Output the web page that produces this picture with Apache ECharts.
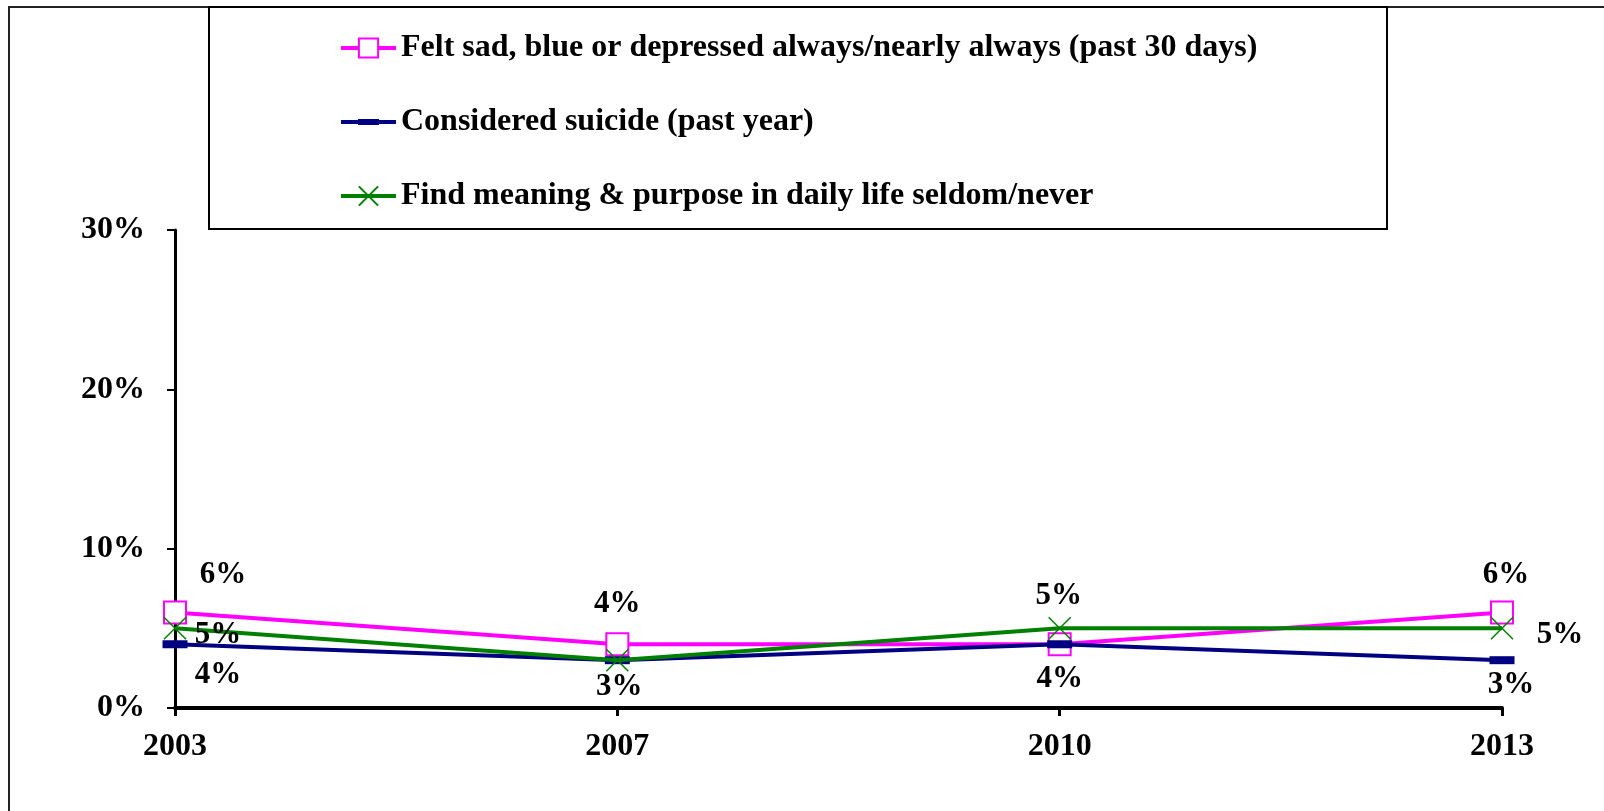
<!DOCTYPE html>
<html>
<head>
<meta charset="utf-8">
<script src="https://cdn.jsdelivr.net/npm/echarts@6/dist/echarts.min.js"></script>
<style>
html,body{margin:0;padding:0;background:#fff;}
#chart{width:1604px;height:811px;}
</style>
</head>
<body>
<div id="chart"></div>
<script>
const years = ['2003', '2007', '2010', '2013'];
const feltSad = [6, 4, 4, 6];
const consideredSuicide = [4, 3, 4, 3];
const findMeaning = [5, 3, 5, 5];
const seriesNames = [
  'Felt sad, blue or depressed always/nearly always (past 30 days)',
  'Considered suicide (past year)',
  'Find meaning & purpose in daily life seldom/never'
];
const yTicks = [0, 10, 20, 30];

// label placement (offsets from the point), null = hidden (overlapping duplicate)
const sadLabelPos = [[48, -37], [0, -40], [0, 35], [4, -37]];
const suicideLabelPos = [[43, 31], [2, 27], null, [9, 25]];
const meaningLabelPos = [[43, 7], null, [-1, -32], [58, 7]];

const FONT = '"Liberation Serif", "Times New Roman", serif';

function mkData(vals, pos) {
  return vals.map((v, i) => ({
    value: v,
    label: pos[i] ? { show: true, position: 'inside', offset: pos[i] } : { show: false }
  }));
}
const labelBase = {
  show: true, formatter: '{c}%', color: '#000', fontFamily: FONT,
  fontWeight: 'bold', fontSize: 31, textBorderWidth: 0
};

const chart = echarts.init(document.getElementById('chart'), null, { renderer: 'canvas' });
chart.setOption({
  animation: false,
  backgroundColor: '#fff',
  graphic: [
    { type: 'rect', shape: { x: 9, y: 7, width: 1700, height: 900 }, style: { fill: 'none', stroke: '#222', lineWidth: 2 }, z: 0 },
    { type: 'rect', shape: { x: 209, y: 7, width: 1178, height: 222 }, style: { fill: 'none', stroke: '#000', lineWidth: 2 }, z: 0 }
  ],
  grid: { left: 175, right: 102, top: 230, bottom: 103, containLabel: false },
  legend: {
    orient: 'vertical', left: 339, top: 32, padding: 0,
    itemWidth: 55, itemHeight: 24, itemGap: 42,
    lineStyle: { width: 4 },
    textStyle: { fontFamily: FONT, fontWeight: 'bold', fontSize: 32, color: '#000', lineHeight: 32 },
    data: [
      seriesNames[0],
      { name: seriesNames[1], icon: 'path://M0,2L55,2L55,6L0,6Z M17,1L38,1L38,7L17,7Z' },
      seriesNames[2]
    ]
  },
  xAxis: {
    type: 'category', data: years, boundaryGap: false,
    axisLine: { lineStyle: { color: '#000', width: 4 } },
    axisTick: { show: true, length: 8, lineStyle: { color: '#000', width: 3 } },
    axisLabel: { fontFamily: FONT, fontWeight: 'bold', fontSize: 32, color: '#000', margin: 23 },
    splitLine: { show: false }
  },
  yAxis: {
    type: 'value', min: yTicks[0], max: yTicks[yTicks.length - 1], interval: 10,
    axisLine: { show: true, lineStyle: { color: '#000', width: 3 } },
    axisTick: { show: true, length: 8, lineStyle: { color: '#000', width: 2 } },
    axisLabel: { formatter: '{value}%', fontFamily: FONT, fontWeight: 'bold', fontSize: 32, color: '#000', margin: 30 },
    splitLine: { show: false }
  },
  series: [
    {
      name: seriesNames[0], type: 'line', data: mkData(feltSad, sadLabelPos),
      symbol: 'emptyRect', symbolSize: 22,
      lineStyle: { color: '#ff00ff', width: 4 },
      itemStyle: { color: '#ff00ff', borderColor: '#ff00ff', borderWidth: 1.5 },
      label: labelBase, z: 2
    },
    {
      name: seriesNames[1], type: 'line', data: mkData(consideredSuicide, suicideLabelPos),
      symbol: 'rect', symbolSize: [25, 8],
      lineStyle: { color: '#000080', width: 4 },
      itemStyle: { color: '#000080' },
      label: labelBase, z: 3
    },
    {
      name: seriesNames[2], type: 'line', data: mkData(findMeaning, meaningLabelPos),
      symbol: 'path://M0,0L10,10M10,0L0,10', symbolSize: 22, symbolKeepAspect: true,
      lineStyle: { color: '#008000', width: 4 },
      itemStyle: { color: '#008000', borderColor: '#008000', borderWidth: 1.5 },
      label: labelBase, z: 4
    }
  ]
});
</script>
</body>
</html>
